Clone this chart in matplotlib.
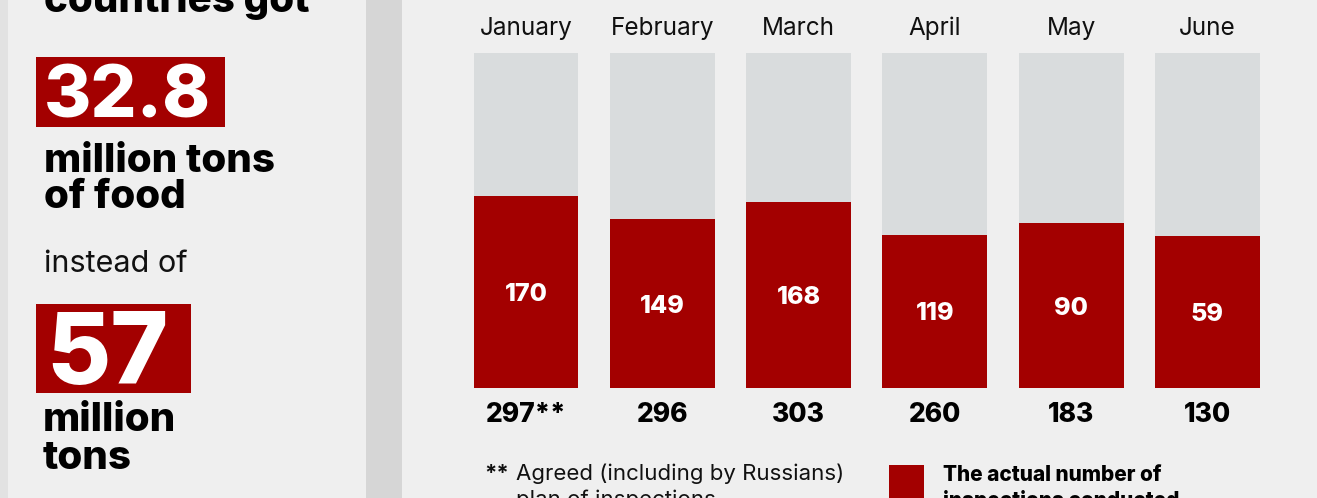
import numpy as np
import matplotlib
matplotlib.use('Agg')
import matplotlib.pyplot as plt
from matplotlib.patches import Rectangle

# inspections per month: agreed plan vs actual
months = ['January', 'February', 'March', 'April', 'May', 'June']
agreed = [297, 296, 303, 260, 183, 130]
actual = [170, 149, 168, 119, 90, 59]
agreed_labels = ['297**', '296', '303', '260', '183', '130']

RED = '#a30000'
GREY_BAR = '#d9dcdd'
BG = '#efefef'
STRIP = '#d6d6d6'
FONT = 'Inter'

W, H = 1317, 498
fig = plt.figure(figsize=(W / 100, H / 100), dpi=100)
fig.patch.set_facecolor(BG)

def px(x, y):
	return x / W, 1 - y / H

def line(x, y, s, **kw):
	fig.text(*px(x, y), s, family=FONT, va='baseline', ha='left', **kw)

# divider strip and left edge
fig.patches.append(Rectangle(px(366, 498), 36 / W, 1, transform=fig.transFigure,
	facecolor=STRIP, edgecolor='none', zorder=0))
fig.patches.append(Rectangle(px(0, 498), 8 / W, 1, transform=fig.transFigure,
	facecolor='#e2e2e2', edgecolor='none', zorder=0))

# left panel
line(44, 12, 'countries got', fontsize=29, fontweight='heavy', color='black')
fig.patches.append(Rectangle(px(36, 127), 189 / W, 70 / H, transform=fig.transFigure,
	facecolor=RED, edgecolor='none'))
line(44, 117, '32.8', fontsize=52, fontweight='heavy', color='white')
line(44, 172, 'million tons', fontsize=29, fontweight='heavy', color='black')
line(44, 208, 'of food', fontsize=29, fontweight='heavy', color='black')
line(44, 272, 'instead of', fontsize=22, color='#111111')
fig.patches.append(Rectangle(px(36, 393), 155 / W, 89 / H, transform=fig.transFigure,
	facecolor=RED, edgecolor='none'))
line(46, 384, '57', fontsize=71, fontweight='heavy', color='white')
line(43, 431, 'million', fontsize=29, fontweight='heavy', color='black')
line(43, 469, 'tons', fontsize=29, fontweight='heavy', color='black')

# bars: each bar is the agreed plan (100%), red part is actual share
spacing = 136.3
left_px = 526 - 0.5 * spacing
ax = fig.add_axes([left_px / W, (H - 388) / H, 6 * spacing / W, 335 / H])
ax.set_facecolor('none')
x = np.arange(len(months))
share = np.array(actual) / np.array(agreed)
ax.bar(x, np.ones(len(x)), width=0.77, color=GREY_BAR, edgecolor='none')
ax.bar(x, share, width=0.77, color=RED, edgecolor='none')
ax.set_xlim(-0.5, len(x) - 0.5)
ax.set_ylim(0, 1)
ax.axis('off')

for i in range(len(x)):
	ax.text(x[i], share[i] / 2, str(actual[i]), ha='center', va='center_baseline',
		color='white', fontsize=18, fontweight='heavy', family=FONT)
	ax.text(x[i], 1.054, months[i], ha='center', va='baseline', color='#111111',
		fontsize=17.5, family=FONT, transform=ax.get_xaxis_transform())
	ax.text(x[i], -0.1, agreed_labels[i], ha='center', va='baseline', color='black',
		fontsize=19, fontweight='heavy', family=FONT, transform=ax.get_xaxis_transform())

# footnote and legend (cut at the bottom edge)
line(484, 480, '**', fontsize=16, fontweight='bold', color='#111111')
line(516, 480, 'Agreed (including by Russians)', fontsize=16, color='#111111')
line(516, 506, 'plan of inspections', fontsize=16, color='#111111')
fig.patches.append(Rectangle(px(889, 510), 35 / W, 45 / H, transform=fig.transFigure,
	facecolor=RED, edgecolor='none'))
line(943, 481, 'The actual number of', fontsize=15, fontweight='heavy', color='black')
line(943, 507, 'inspections conducted', fontsize=15, fontweight='heavy', color='black')

fig.savefig('out.png', dpi=100, facecolor=fig.get_facecolor())
